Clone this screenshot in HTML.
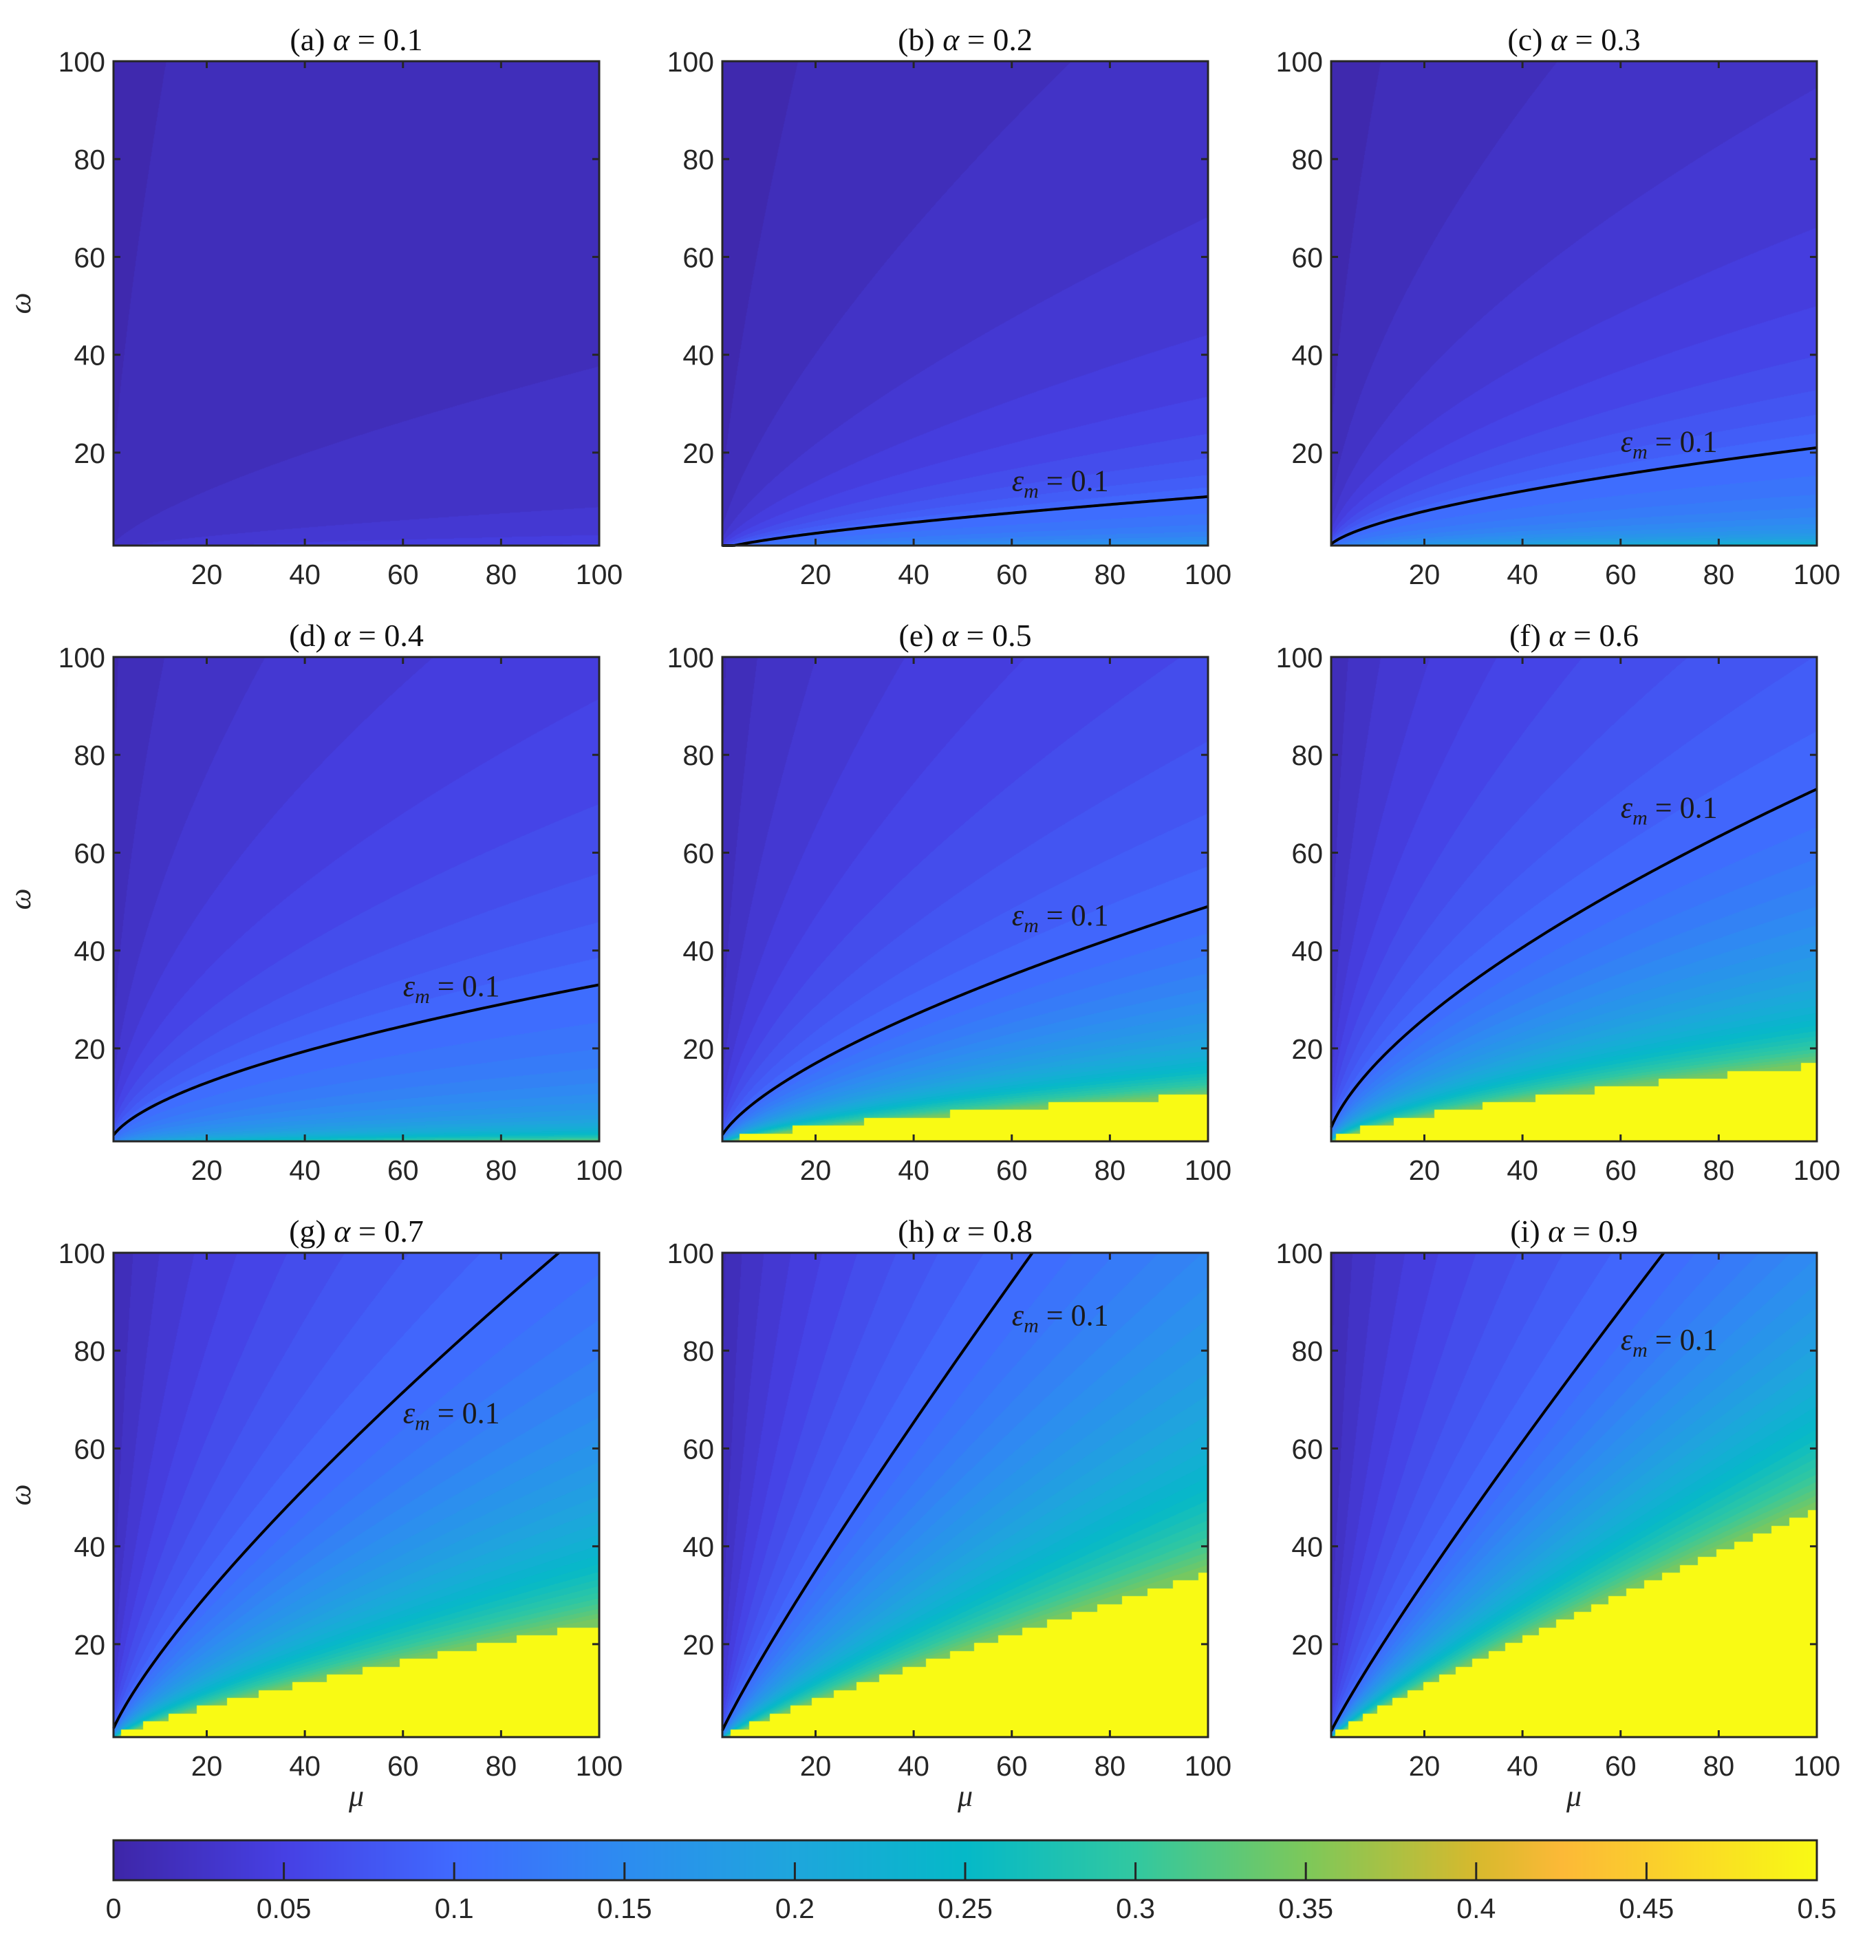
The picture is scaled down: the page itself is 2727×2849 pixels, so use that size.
<!DOCTYPE html>
<html><head><meta charset="utf-8">
<style>
html,body{margin:0;padding:0;background:#fff;}
#root{position:relative;width:2727px;height:2849px;overflow:hidden;background:#fff;}
canvas{position:absolute;}
svg{position:absolute;left:0;top:0;}
</style></head>
<body>
<div id="root">
<svg id="ov" width="2727" height="2849"></svg>
</div>
<script>
// ---- data ----
const panelLabels = ["(a)","(b)","(c)","(d)","(e)","(f)","(g)","(h)","(i)"];
const alphas = [0.1,0.2,0.3,0.4,0.5,0.6,0.7,0.8,0.9];
// omega of eps_m=0.1 contour at mu=100 (extrapolated)
const lineTop = [0.12,11,21,33,49,73,107,149,140];
// shape exponent of contour vs mu
const lineExp = [0.7,0.71,0.6,0.58,0.66,0.64,0.79,0.9,0.9];
// decay exponents above / below the contour
const decayUp = [0.28,0.66,0.8,0.68,0.68,0.7,0.7,0.7,0.7];
const decayDown = [0.28,0.25,0.3,0.36,0.805,0.845,0.85,0.865,1.17];
const showLine = [false,true,true,true,true,true,true,true,true];
const labelMu = [60,60,60,60,60,60,60,60,60];
const labelOm = [0,14,22,32.5,47,69,67,87,82];
const axisTicks = [20,40,60,80,100];
const cbTicks = [0,0.05,0.1,0.15,0.2,0.25,0.3,0.35,0.4,0.45,0.5];
const cbLabels = ["0","0.05","0.1","0.15","0.2","0.25","0.3","0.35","0.4","0.45","0.5"];

// ---- layout ----
const colX=[165,1050,1935], rowY=[89,955,1821], PW=706, PH=704;
const cmap=[[0,62,38,168],[0.05,70,64,228],[0.1,64,106,255],[0.15,45,140,240],[0.2,30,166,220],[0.25,5,185,200],[0.3,50,200,160],[0.35,125,200,90],[0.4,215,185,45],[0.425,252,185,55],[0.45,250,205,45],[0.5,249,250,20]];
function col(v){v=Math.max(0,Math.min(0.5,v));for(let i=1;i<cmap.length;i++){if(v<=cmap[i][0]){const a=cmap[i-1],b=cmap[i],t=(v-a[0])/(b[0]-a[0]);return [a[1]+t*(b[1]-a[1]),a[2]+t*(b[2]-a[2]),a[3]+t*(b[3]-a[3])];}}return [249,250,20];}
function field(p,mu,om){const L=lineTop[p]*Math.pow(mu/100,lineExp[p]);const r=L/om;return 0.1*Math.pow(r,r<1?decayUp[p]:decayDown[p]);}
const YEL=0.36;
const NS="http://www.w3.org/2000/svg";
const ov=document.getElementById('ov');
function el(tag,attrs,parent){const e=document.createElementNS(NS,tag);for(const k in attrs)e.setAttribute(k,attrs[k]);(parent||ov).appendChild(e);return e;}
const root=document.getElementById('root');

for(let p=0;p<9;p++){
  const x0=colX[p%3], y0=rowY[Math.floor(p/3)];
  const sx=mu=>x0+(mu-1)/99*PW, sy=om=>y0+PH-(om-1)/99*PH;
  const cv=document.createElement('canvas');
  
  
  cv.width=PW;cv.height=PH;cv.style.left=x0+'px';cv.style.top=y0+'px';
  root.insertBefore(cv,ov);
  const ctx=cv.getContext('2d');const img=ctx.createImageData(PW,PH);
  for(let j=0;j<PH;j++){const om=1+99*(PH-j-0.5)/PH;const omq=Math.floor((om-1)/1.6)*1.6+1.3;
    for(let i=0;i<PW;i++){const mu=1+99*(i+0.5)/PW;
      let v=field(p,mu,om);
      if(field(p,mu,omq)>=YEL) v=0.5; else {v=Math.min(v,0.345);v=(Math.floor(v/0.01)+0.5)*0.01;}
      const c=col(v);const k=(j*PW+i)*4;img.data[k]=c[0];img.data[k+1]=c[1];img.data[k+2]=c[2];img.data[k+3]=255;}}
  ctx.putImageData(img,0,0);
  const g=el('g',{});
  
  
  if(showLine[p]){
    let pts=[];for(let mu=1;mu<=100;mu+=0.5){const om=lineTop[p]*Math.pow(mu/100,lineExp[p]);if(om>100){pts.push(sx(Math.pow(100/lineTop[p],1/lineExp[p])*100)+','+sy(100));break;}pts.push(sx(mu)+','+sy(Math.max(1,om)));}
    const pl=el('polyline',{points:pts.join(' '),fill:'none',stroke:'#000','stroke-width':4},g);
    
    const t=el('text',{x:sx(labelMu[p]),y:sy(labelOm[p])+13,'font-family':'"Liberation Serif",serif','font-size':44,fill:'#1a1a1a'},g);
    
    t.innerHTML='<tspan font-style="italic">ε</tspan><tspan font-style="italic" font-size="30" dy="10">m</tspan><tspan dy="-10"> = 0.1</tspan>';
  }
  const fr=el('rect',{x:x0,y:y0,width:PW,height:PH,fill:'none',stroke:'#262626','stroke-width':3},g);
  
  for(const tv of axisTicks){
    const X=sx(tv),Y=sy(tv);
    el('line',{x1:X,y1:y0+PH,x2:X,y2:y0+PH-10,stroke:'#262626','stroke-width':3},g);
    el('line',{x1:X,y1:y0,x2:X,y2:y0+10,stroke:'#262626','stroke-width':3},g);
    el('line',{x1:x0,y1:Y,x2:x0+10,y2:Y,stroke:'#262626','stroke-width':3},g);
    el('line',{x1:x0+PW,y1:Y,x2:x0+PW-10,y2:Y,stroke:'#262626','stroke-width':3},g);
    const xl=el('text',{x:X,y:y0+PH+56,'text-anchor':'middle','font-family':'"Liberation Sans",sans-serif','font-size':41,fill:'#262626'},g);
    xl.textContent=tv;
    const yl=el('text',{x:x0-12,y:Y+15,'text-anchor':'end','font-family':'"Liberation Sans",sans-serif','font-size':41,fill:'#262626'},g);
    yl.textContent=tv;
  }
  const tt=el('text',{x:x0+PW/2,y:y0-16,'text-anchor':'middle','font-family':'"Liberation Serif",serif','font-size':46,fill:'#111'},g);
  
  tt.innerHTML=panelLabels[p]+' <tspan font-style="italic">α</tspan> = '+alphas[p];
  if(p%3==0){const yl=el('text',{x:44,y:y0+PH/2,'text-anchor':'middle','font-family':'"Liberation Serif",serif','font-style':'italic','font-size':44,fill:'#262626',transform:'rotate(-90 44 '+(y0+PH/2)+')'},g);
    yl.textContent='ω';}
  if(p>=6){const xl=el('text',{x:x0+PW/2,y:2625,'text-anchor':'middle','font-family':'"Liberation Serif",serif','font-style':'italic','font-size':44,fill:'#262626'},g);
    xl.textContent='μ';}
}
// colorbar
const cbX=165,cbW=2641-165,cbY=2675,cbH=58;
const cbc=document.createElement('canvas');

cbc.width=cbW;cbc.height=cbH;cbc.style.left=cbX+'px';cbc.style.top=cbY+'px';root.insertBefore(cbc,ov);
const cx=cbc.getContext('2d');
for(let i=0;i<cbW;i++){const c=col(0.5*i/cbW);cx.fillStyle='rgb('+c.map(Math.round).join(',')+')';cx.fillRect(i,0,1,cbH);}
const cg=el('g',{});
el('rect',{x:cbX,y:cbY,width:cbW,height:cbH,fill:'none',stroke:'#262626','stroke-width':3},cg);
cbTicks.forEach((v,i)=>{const X=cbX+v/0.5*cbW;
  el('line',{x1:X,y1:cbY+cbH,x2:X,y2:cbY+cbH-26,stroke:'#262626','stroke-width':3},cg);
  const t=el('text',{x:X,y:2788,'text-anchor':'middle','font-family':'"Liberation Sans",sans-serif','font-size':41,fill:'#262626'},cg);
  t.textContent=cbLabels[i];});
</script>
</body></html>
